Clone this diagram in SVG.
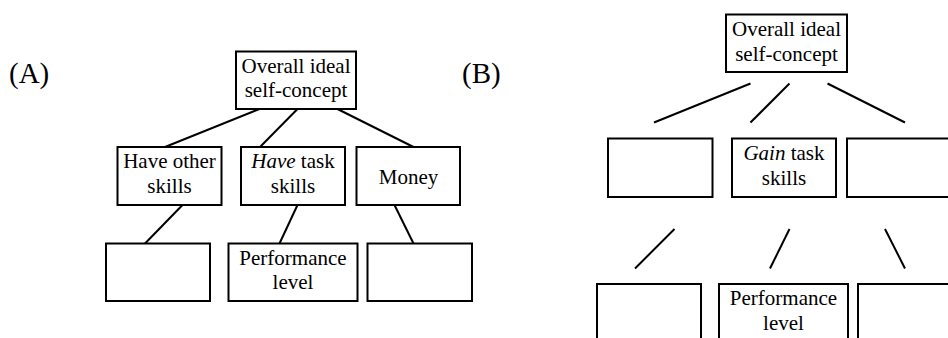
<svg xmlns="http://www.w3.org/2000/svg" width="948" height="338" viewBox="0 0 948 338">
<style>
.box{fill:#fff;stroke:#000;stroke-width:2}
.ln{stroke:#000;stroke-width:2;fill:none}
.t{font-family:'Liberation Serif',serif;font-size:21px;fill:#000;text-anchor:middle}
.lbl{font-family:'Liberation Serif',serif;font-size:29px;fill:#000}
.it{font-style:italic}
</style>
<rect width="948" height="338" fill="#fff"/>
<text class="lbl" x="9" y="83">(A)</text>
<text class="lbl" x="462" y="83">(B)</text>
<g id="connectors">
<line class="ln" x1="259.5" y1="109" x2="165" y2="147"/>
<line class="ln" x1="297.5" y1="109" x2="260" y2="147"/>
<line class="ln" x1="337.5" y1="109" x2="413.5" y2="147"/>
<line class="ln" x1="182.5" y1="205" x2="145" y2="243.5"/>
<line class="ln" x1="297.5" y1="205" x2="279.5" y2="243.5"/>
<line class="ln" x1="394.5" y1="205" x2="413.5" y2="243.5"/>
<line class="ln" x1="750.5" y1="83.5" x2="654" y2="122.5"/>
<line class="ln" x1="789.5" y1="83.5" x2="750.5" y2="122.5"/>
<line class="ln" x1="827.5" y1="83.5" x2="905" y2="122.5"/>
<line class="ln" x1="674.5" y1="229" x2="635" y2="268.5"/>
<line class="ln" x1="789.5" y1="229" x2="770" y2="268.5"/>
<line class="ln" x1="885" y1="229" x2="905" y2="268.5"/>
</g>
<g id="a-root"><rect class="box" x="236" y="51.5" width="120" height="57.5"/><text class="t" x="296" y="73">Overall ideal</text><text class="t" x="296" y="97">self-concept</text></g>
<g id="a-other"><rect class="box" x="117.5" y="147" width="104" height="58"/><text class="t" x="169.5" y="168">Have other</text><text class="t" x="169.5" y="193">skills</text></g>
<g id="a-task"><rect class="box" x="241" y="147" width="104" height="58"/><text class="t" x="293" y="168"><tspan class="it">Have</tspan> task</text><text class="t" x="293" y="193">skills</text></g>
<g id="a-money"><rect class="box" x="356.5" y="147" width="103.5" height="58"/><text class="t" x="408.5" y="183.5">Money</text></g>
<g id="a-bl"><rect class="box" x="106" y="243.5" width="104" height="57.5"/></g>
<g id="a-perf"><rect class="box" x="228.5" y="243.5" width="129" height="57.5"/><text class="t" x="293" y="264.5">Performance</text><text class="t" x="293" y="288.5">level</text></g>
<g id="a-br"><rect class="box" x="367.5" y="243.5" width="104.5" height="57.5"/></g>
<g id="b-root"><rect class="box" x="726" y="14.5" width="121" height="57.5"/><text class="t" x="786.5" y="36">Overall ideal</text><text class="t" x="786.5" y="60.5">self-concept</text></g>
<g id="b-left"><rect class="box" x="608" y="138.5" width="104.5" height="58.5"/></g>
<g id="b-gain"><rect class="box" x="732" y="138.5" width="104" height="58.5"/><text class="t" x="784" y="159.5"><tspan class="it">Gain</tspan> task</text><text class="t" x="784" y="184.5">skills</text></g>
<g id="b-right"><rect class="box" x="847" y="138.5" width="110" height="58.5"/></g>
<g id="b-bl"><rect class="box" x="597" y="284" width="104" height="70"/></g>
<g id="b-perf"><rect class="box" x="719" y="284" width="129" height="70"/><text class="t" x="783.5" y="305">Performance</text><text class="t" x="783.5" y="329.5">level</text></g>
<g id="b-br"><rect class="box" x="858" y="284" width="100" height="70"/></g>
</svg>
